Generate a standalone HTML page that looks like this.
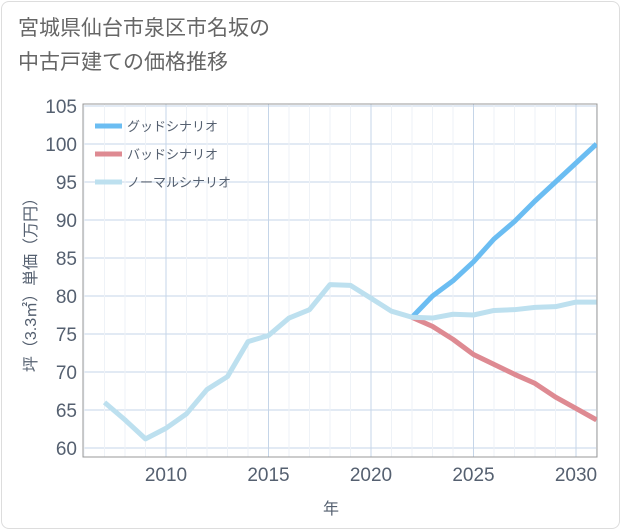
<!DOCTYPE html>
<html><head><meta charset="utf-8"><style>
body{margin:0;background:#fff;font-family:"Liberation Sans","Noto Sans CJK JP",sans-serif}
#card{position:absolute;left:1px;top:1px;width:617px;height:526px;border:1px solid #ddd;border-radius:8px;background:#fff}
#title{position:absolute;left:18px;top:12px;font-size:21px;line-height:34px;color:#666}
</style></head><body>
<div id="card"></div>
<div id="title">宮城県仙台市泉区市名坂の<br>中古戸建ての価格推移</div>
<svg id="chart" width="621" height="530" style="position:absolute;left:0;top:0"></svg>
<script>
const years=[2007,2008,2009,2010,2011,2012,2013,2014,2015,2016,2017,2018,2019,2020,2021,2022,2023,2024,2025,2026,2027,2028,2029,2030,2031];
const normal=[66,63.7,61.2,62.6,64.5,67.7,69.4,74,74.8,77.1,78.2,81.5,81.4,79.7,78,77.2,77.1,77.6,77.5,78.1,78.2,78.5,78.6,79.2,79.2];
const goodYears=[2022,2023,2024,2025,2026,2027,2028,2029,2030,2031];
const good=[77.2,80,82,84.5,87.5,89.8,92.5,95,97.5,100];
const bad=[77.2,76,74.3,72.3,71,69.7,68.5,66.7,65.2,63.7];
const yTicks=[60,65,70,75,80,85,90,95,100,105];
const xTicks=[2010,2015,2020,2025,2030];
const L=83,R=597,T=104,B=457;
const xs=v=>166+(v-2010)*20.5;
const ys=v=>448-(v-60)*(342/45);
const svg=document.getElementById('chart');const NS='http://www.w3.org/2000/svg';
function mk(t,a,p){const e=document.createElementNS(NS,t);for(const k in a)e.setAttribute(k,a[k]);(p||svg).appendChild(e);return e;}
yTicks.forEach(v=>{const l=mk('line',{x1:L,x2:R,y1:ys(v),y2:ys(v),stroke:'#c5d5e8','stroke-width':1});

const t=mk('text',{x:L-6,y:ys(v)+7,'text-anchor':'end','font-size':19,fill:'#556070'});t.textContent=v;
});
for(let y=2006;y<=2031;y++){if(xs(y)>L&&xs(y)<R){const l=mk('line',{x1:xs(y),x2:xs(y),y1:T,y2:B,stroke:y%5==0?'#c5d5e8':'#eef2f7','stroke-width':1});
}}
xTicks.forEach(v=>{const t=mk('text',{x:xs(v),y:B+24,'text-anchor':'middle','font-size':19,fill:'#556070'});t.textContent=v;
});
const fr=mk('rect',{x:L,y:T,width:R-L,height:B-T,fill:'none',stroke:'#999','stroke-width':1});

function line(xv,yv,c,name){const p=mk('polyline',{points:xv.map((x,i)=>xs(x)+','+ys(yv[i])).join(' '),fill:'none',stroke:c,'stroke-width':5,'stroke-linejoin':'round'});
}
const clip=mk('clipPath',{id:'cp'});mk('rect',{x:L,y:T,width:R-L,height:B-T},clip);
const g=mk('g',{'clip-path':'url(#cp)'});
const old=svg;
function line2(xv,yv,c,name){const p=mk('polyline',{points:xv.map((x,i)=>xs(x)+','+ys(yv[i])).join(' '),fill:'none',stroke:c,'stroke-width':5,'stroke-linejoin':'round'},g);
}
line2(goodYears,bad,'#de8a92','bad-scenario-line');
line2(goodYears,good,'#6bbdf2','good-scenario-line');
line2(years,normal,'#bde0ef','normal-scenario-line');
const leg=[['グッドシナリオ','#6bbdf2'],['バッドシナリオ','#de8a92'],['ノーマルシナリオ','#bde0ef']];
leg.forEach((d,i)=>{const y=126+i*28;const r=mk('line',{x1:95,x2:122,y1:y,y2:y,stroke:d[1],'stroke-width':5});

const t=mk('text',{x:127,y:y+5,'font-size':13,fill:'#556070'});t.textContent=d[0];
});
const yt=mk('text',{transform:'translate(36,281) rotate(-90)','text-anchor':'middle','font-size':16,fill:'#556070'});yt.textContent='坪（3.3㎡）単価（万円）';

const xt=mk('text',{x:331,y:514,'text-anchor':'middle','font-size':16,fill:'#556070'});xt.textContent='年';

</script>
</body></html>
